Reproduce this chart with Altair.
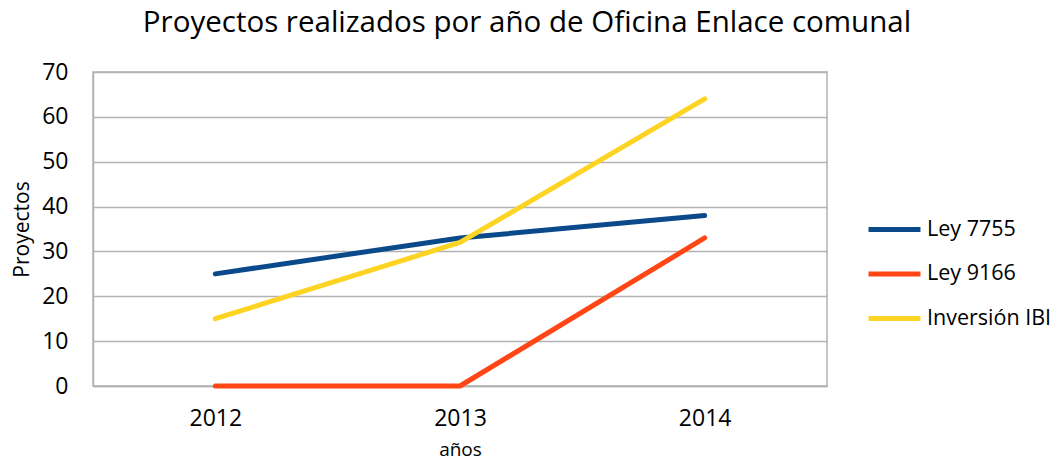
import altair as alt
import pandas as pd

years = ["2012", "2013", "2014"]
series_names = ["Ley 7755", "Ley 9166", "Inversión IBI"]
ley_7755 = [25, 33, 38]
ley_9166 = [0, 0, 33]
inversion_ibi = [15, 32, 64]
colors = ["#0B4A8A", "#FF4614", "#FDD423"]

rows = []
for name, vals in zip(series_names, [ley_7755, ley_9166, inversion_ibi]):
    for y, v in zip(years, vals):
        rows.append({"año": y, "serie": name, "valor": v})
df = pd.DataFrame(rows)

FONT = "Open Sans"

chart = alt.Chart(df).mark_line(strokeWidth=5, strokeCap="round", strokeJoin="round").encode(
    x=alt.X("año:N", scale=alt.Scale(paddingInner=0, paddingOuter=0.5), sort=years,
            axis=alt.Axis(title="años", labelAngle=0, ticks=False, domain=True, domainColor="#b3b3b3",
                          domainWidth=1.5,
                          labelFontSize=23, labelPadding=21, titleFontSize=19, titlePadding=10,
                          labelFont=FONT, titleFont=FONT, labelColor="#000", titleColor="#000",
                          titleFontWeight="normal")),
    y=alt.Y("valor:Q", scale=alt.Scale(domain=[0, 70]),
            axis=alt.Axis(title="Proyectos", values=[0, 10, 20, 30, 40, 50, 60, 70], ticks=False,
                          domainColor="#b3b3b3", domainWidth=1.5, gridColor="#b3b3b3", gridWidth=1.5,
                          labelFontSize=23, labelPadding=25, titleFontSize=21, titlePadding=9,
                          labelFont=FONT, titleFont=FONT, labelColor="#000", titleColor="#000",
                          titleFontWeight="normal")),
    color=alt.Color("serie:N", sort=series_names,
                    scale=alt.Scale(domain=series_names, range=colors),
                    legend=alt.Legend(title=None, orient="none", legendX=773, legendY=129,
                                      symbolType="stroke", symbolSize=2700, symbolStrokeWidth=5,
                                      labelFontSize=21.5, labelFont=FONT, labelColor="#000",
                                      rowPadding=5.5, labelOffset=4, labelLimit=200)),
).properties(
    width=734, height=314,
    title=alt.TitleParams("Proyectos realizados por año de Oficina Enlace comunal",
                          fontSize=29.5, font=FONT, fontWeight="normal", color="#000",
                          anchor="middle", offset=23, dx=67),
    autosize=alt.AutoSizeParams(type="none"),
    padding={"left": 85, "top": 64, "right": 227, "bottom": 74},
).configure_view(stroke="#b3b3b3", strokeWidth=1.5)

chart.save("out.html", embed_options={"renderer": "svg", "actions": False})
